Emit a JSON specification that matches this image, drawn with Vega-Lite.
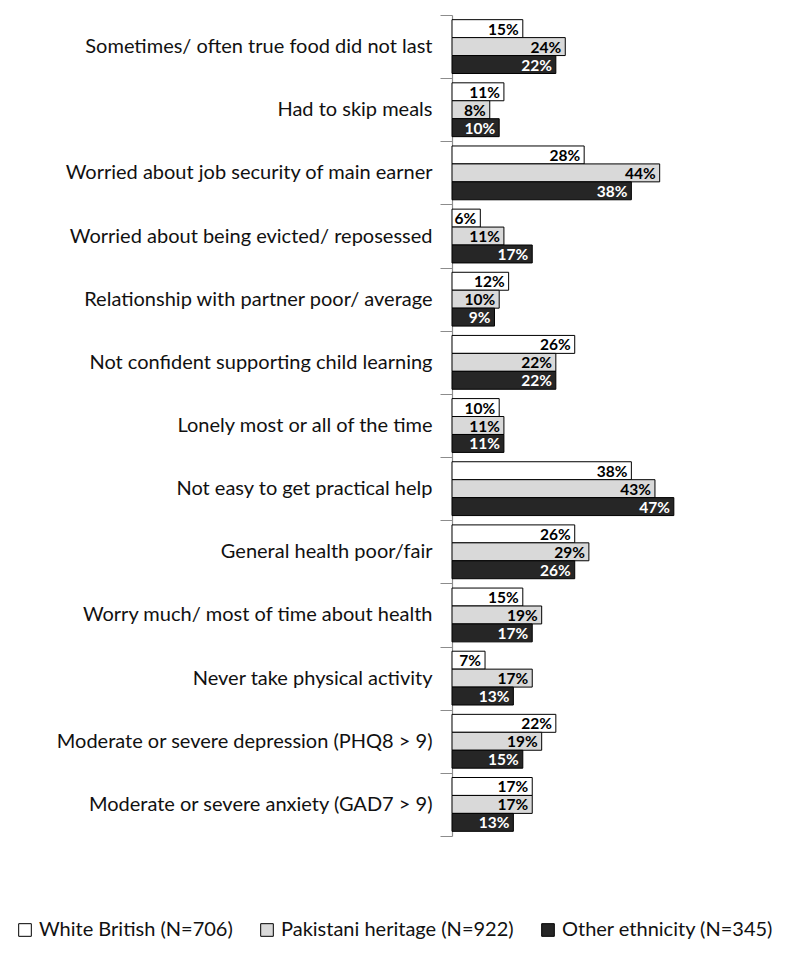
{
  "$schema": "https://vega.github.io/schema/vega-lite/v6.json",
  "autosize": {"type": "none"},
  "padding": {"left": 452, "top": 15, "right": 108, "bottom": 121},
  "width": 236,
  "height": 821,
  "background": "white",
  "data": {"values": [
    {"item": "Sometimes/ often true food did not last", "group": "White British (N=706)", "pct": 15},
    {"item": "Sometimes/ often true food did not last", "group": "Pakistani heritage (N=922)", "pct": 24},
    {"item": "Sometimes/ often true food did not last", "group": "Other ethnicity (N=345)", "pct": 22},
    {"item": "Had to skip meals", "group": "White British (N=706)", "pct": 11},
    {"item": "Had to skip meals", "group": "Pakistani heritage (N=922)", "pct": 8},
    {"item": "Had to skip meals", "group": "Other ethnicity (N=345)", "pct": 10},
    {"item": "Worried about job security of main earner", "group": "White British (N=706)", "pct": 28},
    {"item": "Worried about job security of main earner", "group": "Pakistani heritage (N=922)", "pct": 44},
    {"item": "Worried about job security of main earner", "group": "Other ethnicity (N=345)", "pct": 38},
    {"item": "Worried about being evicted/ reposessed", "group": "White British (N=706)", "pct": 6},
    {"item": "Worried about being evicted/ reposessed", "group": "Pakistani heritage (N=922)", "pct": 11},
    {"item": "Worried about being evicted/ reposessed", "group": "Other ethnicity (N=345)", "pct": 17},
    {"item": "Relationship with partner poor/ average", "group": "White British (N=706)", "pct": 12},
    {"item": "Relationship with partner poor/ average", "group": "Pakistani heritage (N=922)", "pct": 10},
    {"item": "Relationship with partner poor/ average", "group": "Other ethnicity (N=345)", "pct": 9},
    {"item": "Not confident supporting child learning", "group": "White British (N=706)", "pct": 26},
    {"item": "Not confident supporting child learning", "group": "Pakistani heritage (N=922)", "pct": 22},
    {"item": "Not confident supporting child learning", "group": "Other ethnicity (N=345)", "pct": 22},
    {"item": "Lonely most or all of the time", "group": "White British (N=706)", "pct": 10},
    {"item": "Lonely most or all of the time", "group": "Pakistani heritage (N=922)", "pct": 11},
    {"item": "Lonely most or all of the time", "group": "Other ethnicity (N=345)", "pct": 11},
    {"item": "Not easy to get practical help", "group": "White British (N=706)", "pct": 38},
    {"item": "Not easy to get practical help", "group": "Pakistani heritage (N=922)", "pct": 43},
    {"item": "Not easy to get practical help", "group": "Other ethnicity (N=345)", "pct": 47},
    {"item": "General health poor/fair", "group": "White British (N=706)", "pct": 26},
    {"item": "General health poor/fair", "group": "Pakistani heritage (N=922)", "pct": 29},
    {"item": "General health poor/fair", "group": "Other ethnicity (N=345)", "pct": 26},
    {"item": "Worry much/ most of time about health", "group": "White British (N=706)", "pct": 15},
    {"item": "Worry much/ most of time about health", "group": "Pakistani heritage (N=922)", "pct": 19},
    {"item": "Worry much/ most of time about health", "group": "Other ethnicity (N=345)", "pct": 17},
    {"item": "Never take physical activity", "group": "White British (N=706)", "pct": 7},
    {"item": "Never take physical activity", "group": "Pakistani heritage (N=922)", "pct": 17},
    {"item": "Never take physical activity", "group": "Other ethnicity (N=345)", "pct": 13},
    {"item": "Moderate or severe depression (PHQ8 > 9)", "group": "White British (N=706)", "pct": 22},
    {"item": "Moderate or severe depression (PHQ8 > 9)", "group": "Pakistani heritage (N=922)", "pct": 19},
    {"item": "Moderate or severe depression (PHQ8 > 9)", "group": "Other ethnicity (N=345)", "pct": 15},
    {"item": "Moderate or severe anxiety (GAD7 > 9)", "group": "White British (N=706)", "pct": 17},
    {"item": "Moderate or severe anxiety (GAD7 > 9)", "group": "Pakistani heritage (N=922)", "pct": 17},
    {"item": "Moderate or severe anxiety (GAD7 > 9)", "group": "Other ethnicity (N=345)", "pct": 13}
  ]},
  "transform": [{"calculate": "datum.pct + '%'", "as": "label"}],
  "encoding": {
    "y": {
      "field": "item", "type": "nominal", "sort": null, "title": null,
      "scale": {"paddingInner": 0, "paddingOuter": 0},
      "axis": {
        "domain": true, "domainColor": "#8c8c8c", "domainWidth": 1.2,
        "ticks": true, "tickColor": "#8c8c8c", "tickSize": 12, "tickWidth": 1, "tickBand": "extent",
        "labelPadding": 8, "labelFont": "Lato", "labelFontSize": 20, "labelColor": "#111111",
        "labelLimit": 500, "grid": false
      }
    },
    "yOffset": {
      "field": "group", "type": "nominal", "sort": ["White British (N=706)", "Pakistani heritage (N=922)", "Other ethnicity (N=345)"],
      "scale": {"paddingInner": 0, "paddingOuter": 0.26}
    },
    "x": {
      "field": "pct", "type": "quantitative", "axis": null,
      "scale": {"domain": [0, 50], "nice": false}
    }
  },
  "layer": [
    {
      "mark": {"type": "bar", "stroke": "#000000", "strokeWidth": 1, "cornerRadius": 0},
      "encoding": {
        "color": {
          "field": "group", "type": "nominal",
          "sort": ["White British (N=706)", "Pakistani heritage (N=922)", "Other ethnicity (N=345)"],
          "scale": {"domain": ["White British (N=706)", "Pakistani heritage (N=922)", "Other ethnicity (N=345)"], "range": ["#ffffff", "#d9d9d9", "#262626"]},
          "legend": {
            "title": null, "orient": "none", "direction": "horizontal",
            "legendX": -437, "legendY": 905, "padding": 0,
            "symbolType": "square", "symbolSize": 160, "symbolStrokeColor": "#000000", "symbolStrokeWidth": 1,
            "symbolOpacity": 1,
            "labelFont": "Lato", "labelFontSize": 20, "labelColor": "#111111", "labelOffset": 4,
            "columnPadding": 24, "labelLimit": 400
          }
        }
      }
    },
    {
      "mark": {"type": "text", "align": "right", "baseline": "middle", "dx": -4, "dy": 1, "font": "Lato", "fontWeight": "bold", "fontSize": 15.5},
      "encoding": {
        "text": {"field": "label", "type": "nominal"},
        "color": {
          "condition": {"test": "datum.group === 'Other ethnicity (N=345)'", "value": "#ffffff"},
          "value": "#000000"
        }
      }
    }
  ],
  "config": {"view": {"stroke": null}}
}
